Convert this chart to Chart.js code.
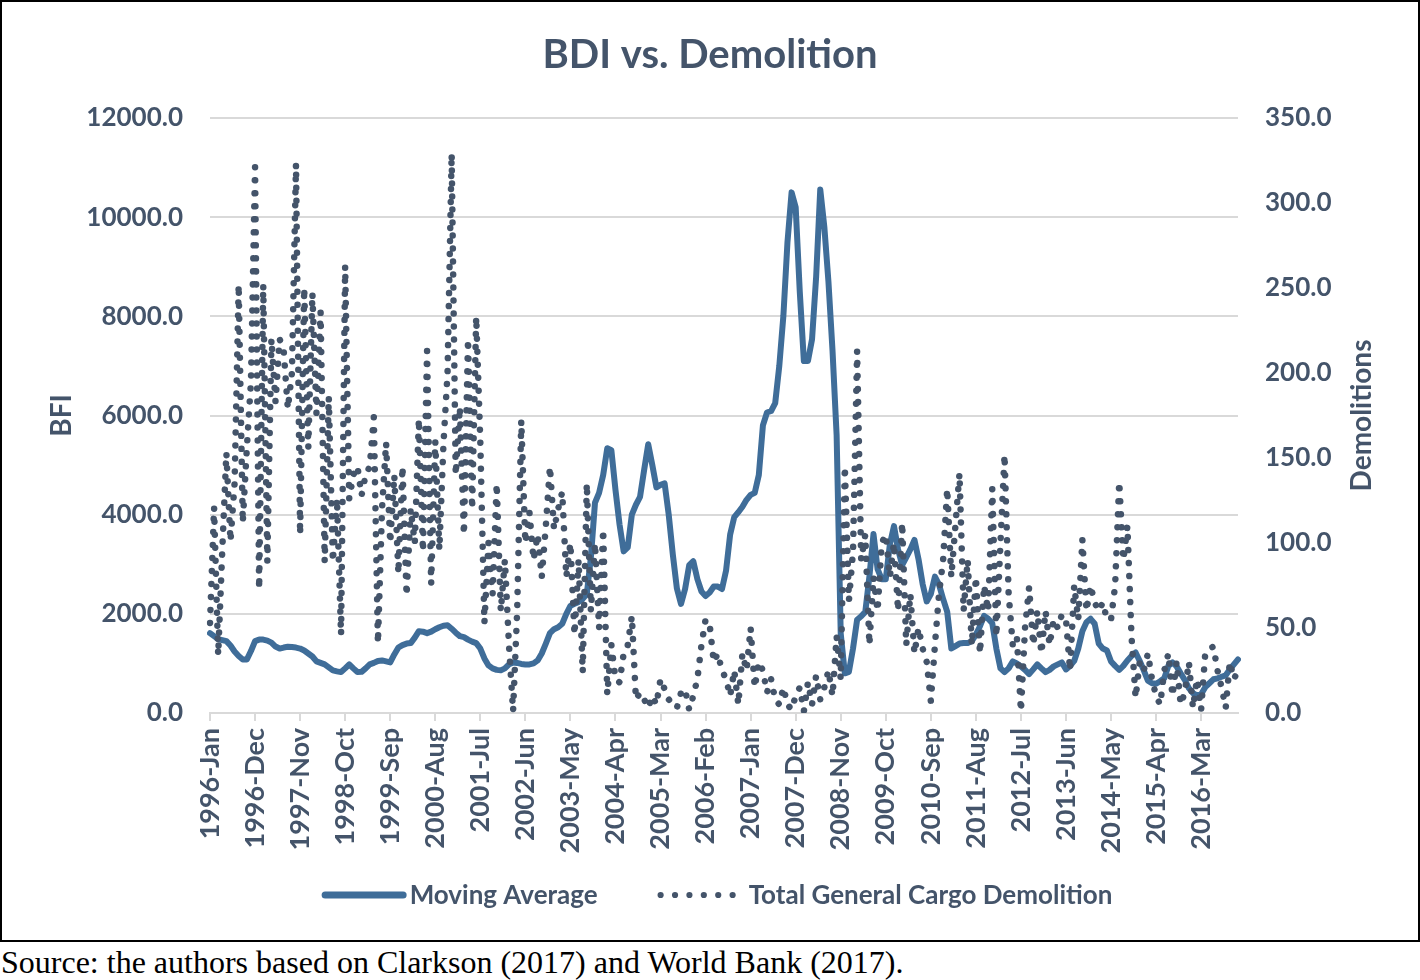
<!DOCTYPE html>
<html>
<head>
<meta charset="utf-8">
<title>BDI vs. Demolition</title>
<script src="https://cdn.jsdelivr.net/npm/chart.js@4.4.1/dist/chart.umd.min.js"></script>
<style>
  html, body { margin: 0; padding: 0; background: #fff; }
  #box { position: absolute; left: 0; top: 0; width: 1416px; height: 938px; border: 2px solid #000; }
  #chart { display: block; }
  #source { position: absolute; left: 1px; top: 944px; font-family: "Liberation Serif", "Times New Roman", serif;
            font-size: 32px; line-height: 36px; color: #000; white-space: nowrap; }
</style>
</head>
<body>
<div id="box"><canvas id="chart" width="1416" height="938"></canvas></div>
<div id="source">Source: the authors based on Clarkson (2017) and World Bank (2017).</div>
<script>
//---data (monthly, 1996-Jan .. 2016-Dec)---
const years = [1996, 1997, 1998, 1999, 2000, 2001, 2002, 2003, 2004, 2005, 2006,
               2007, 2008, 2009, 2010, 2011, 2012, 2013, 2014, 2015, 2016];
const monthNames = ['Jan', 'Feb', 'Mar', 'Apr', 'May', 'Jun', 'Jul', 'Aug', 'Sep', 'Oct', 'Nov', 'Dec'];

// BDI moving average (left axis)
const bdiMovingAverage = [
  1610,1550,1490,1470,1450,1360,1240,1150,1080,1080,1250,1450,
  1480,1480,1460,1420,1340,1300,1320,1335,1330,1320,1300,1260,
  1200,1140,1040,1010,980,920,860,840,825,900,980,900,
  825,830,900,980,1010,1050,1060,1040,1020,1180,1320,1370,
  1400,1410,1520,1650,1640,1610,1640,1690,1730,1760,1770,1700,
  1620,1550,1530,1480,1440,1410,1300,1100,960,900,870,860,
  900,980,1020,1010,990,980,980,1000,1060,1200,1400,1610,
  1690,1730,1800,2000,2160,2200,2240,2300,2400,3140,4240,4440,
  4800,5340,5300,4500,3800,3260,3340,4000,4200,4360,4900,5420,
  5000,4550,4600,4630,4000,3200,2510,2200,2500,2980,3060,2700,
  2450,2360,2430,2550,2550,2500,2870,3600,3950,4050,4160,4300,
  4400,4440,4800,5800,6060,6090,6250,7000,8010,9500,10500,10200,
  8500,7100,7100,7540,8800,10560,9800,8700,7300,5600,1600,800,
  830,1300,1880,1950,2040,2750,3610,2900,2700,2700,3400,3770,
  3300,2980,3140,3300,3490,3100,2600,2250,2400,2750,2590,2300,
  2040,1300,1350,1400,1410,1410,1450,1580,1750,1960,1900,1810,
  1300,900,825,900,1040,1000,940,870,785,880,980,900,
  825,870,940,980,1020,880,950,1050,1300,1650,1830,1900,
  1800,1400,1300,1260,1040,950,870,950,1060,1150,1220,1050,
  860,650,600,590,640,700,950,1020,940,800,670,500,
  400,350,380,520,600,680,700,730,760,880,980,1080
];

// Total general cargo demolitions (right axis)
const demolitions = [
  53,121,34,96,153,101,135,252,112,156,195,321,
  73,252,89,220,183,220,213,179,200,323,105,250,
  156,247,176,236,89,186,89,126,46,263,126,140,
  145,128,140,145,174,41,120,159,100,140,82,145,
  69,120,100,173,95,213,76,160,96,158,200,329,
  140,180,105,220,120,233,160,53,100,70,135,60,
  90,40,1,60,172,100,118,90,105,80,110,145,
  108,120,130,80,100,46,90,24,135,60,100,50,
  108,11,40,20,18,35,40,57,8,12,8,3,
  10,5,20,14,8,5,3,12,14,2,10,20,
  40,55,52,30,35,25,20,10,25,5,35,25,
  50,15,30,25,12,20,8,5,15,5,2,10,
  15,1,18,5,22,8,15,25,10,45,20,145,
  66,95,213,90,105,40,80,60,100,105,80,100,
  60,112,40,70,35,50,38,30,7,40,70,90,
  132,80,110,141,60,90,40,80,35,75,60,132,
  45,100,152,70,40,45,1,50,74,40,60,35,
  60,40,55,50,58,55,25,75,55,102,60,75,
  65,60,65,55,55,75,136,90,110,45,9,30,
  25,35,20,10,5,25,35,10,30,5,12,30,
  3,20,2,35,38,39,25,15,3,30,20,25
];

const seriesNames = ['Moving Average', 'Total General Cargo Demolition'];

//---styles---
const TEXT = '#44546A';
const LINE_BLUE = '#3F6D99';
const DOT_COLOR = '#44546A';
const GRID = '#D9D9D9';
const FONT = 'Lato';

const monthLabels = [];
years.forEach(y => monthNames.forEach(m => monthLabels.push(y + '-' + m)));

//---plugins---
// right axis title reads bottom-to-top like the left one
const rightTitle = {
  id: 'rightTitle',
  afterDraw(chart) {
    const ctx = chart.ctx;
    const sc = chart.scales.yDemo;
    ctx.save();
    ctx.translate(sc.right - 56, (chart.chartArea.top + chart.chartArea.bottom) / 2);
    ctx.rotate(-Math.PI / 2);
    ctx.font = 'bold 28px ' + FONT;
    ctx.fillStyle = TEXT;
    ctx.textAlign = 'center';
    ctx.textBaseline = 'middle';
    ctx.fillText('Demolitions', 0, 0);
    ctx.restore();
  }
};

// legend drawn by hand: solid line sample + round-dot sample, Excel-like spacing
const bottomLegend = {
  id: 'bottomLegend',
  afterDraw(chart) {
    const ctx = chart.ctx;
    const ds = chart.data.datasets;
    ctx.save();
    ctx.font = 'bold 26px ' + FONT;
    const w1 = ctx.measureText(ds[0].label).width;
    const w2 = ctx.measureText(ds[1].label).width;
    const lineLen = 85, dotsLen = 78;
    const total = lineLen + 3 + w1 + 60 + dotsLen + 13 + w2;
    let x = chart.width / 2 + 7 - total / 2;
    const y = 893;

    ctx.strokeStyle = ds[0].borderColor;
    ctx.lineWidth = 7;
    ctx.lineCap = 'round';
    ctx.beginPath(); ctx.moveTo(x + 3.5, y); ctx.lineTo(x + lineLen - 3.5, y); ctx.stroke();
    x += lineLen + 3;
    ctx.fillStyle = TEXT;
    ctx.textBaseline = 'middle';
    ctx.textAlign = 'left';
    ctx.fillText(ds[0].label, x, y + 1);
    x += w1 + 60;

    ctx.fillStyle = ds[1].borderColor;
    for (let k = 0; k < 6; k++) {
      ctx.beginPath(); ctx.arc(x + 3 + k * 14.4, y, 3.1, 0, Math.PI * 2); ctx.fill();
    }
    x += dotsLen + 13;
    ctx.fillStyle = TEXT;
    ctx.fillText(ds[1].label, x, y + 1);
    ctx.restore();
  }
};

function draw() {
  const tickFont = { family: FONT, size: 26, weight: 'bold' };

  new Chart(document.getElementById('chart'), {
    type: 'line',
    data: {
      labels: monthLabels,
      datasets: [
        { label: seriesNames[0], data: bdiMovingAverage, yAxisID: 'yBdi', order: 1,
          borderColor: LINE_BLUE, borderWidth: 6, pointRadius: 0, tension: 0,
          borderJoinStyle: 'round', borderCapStyle: 'round', fill: false },
        { label: seriesNames[1], data: demolitions, yAxisID: 'yDemo', order: 0,
          borderColor: DOT_COLOR, borderWidth: 6.5, borderDash: [0.01, 13], borderCapStyle: 'round',
          pointRadius: 0, tension: 0, fill: false }
      ]
    },
    options: {
      responsive: false,
      animation: false,
      devicePixelRatio: 1,
      layout: { padding: { left: 0, right: 0, top: 0, bottom: 87 } },
      plugins: {
        title: {
          display: true, text: 'BDI vs. Demolition', color: TEXT,
          font: { family: FONT, size: 40, weight: 'bold' },
          padding: { top: 29, bottom: 39 }
        },
        legend: { display: false },
        tooltip: { enabled: false }
      },
      scales: {
        x: {
          type: 'category',
          offset: false,
          grid: { display: true, drawOnChartArea: false, drawTicks: true, tickLength: 8, color: GRID, lineWidth: 2 },
          border: { display: true, color: GRID, width: 2 },
          ticks: {
            autoSkip: false, minRotation: 90, maxRotation: 90, padding: 7, color: TEXT,
            font: { family: FONT, size: 27, weight: 'bold' },
            callback: function(value, index) { return index % 11 === 0 ? this.getLabelForValue(value) : null; }
          },
          afterFit: (scale) => { scale.height = 140; }
        },
        yBdi: {
          position: 'left', min: 0, max: 12000,
          grid: { color: GRID, lineWidth: 2, drawTicks: false },
          border: { display: false },
          ticks: { stepSize: 2000, padding: 27, color: TEXT, font: tickFont, callback: v => v.toFixed(1) },
          title: { display: true, text: 'BFI', color: TEXT, font: { family: FONT, size: 28, weight: 'bold' }, padding: { top: 43, bottom: 0 } },
          afterFit: (scale) => { scale.width = 208; }
        },
        yDemo: {
          position: 'right', min: 0, max: 350,
          grid: { drawOnChartArea: false, drawTicks: false },
          border: { display: false },
          ticks: { stepSize: 50, padding: 27, color: TEXT, font: tickFont, callback: v => v.toFixed(1) },
          title: { display: false },
          afterFit: (scale) => { scale.width = 180; }
        }
      }
    },
    plugins: [rightTitle, bottomLegend]
  });
}

document.fonts.load('bold 27px Lato').then(draw, draw);
</script>
</body>
</html>
